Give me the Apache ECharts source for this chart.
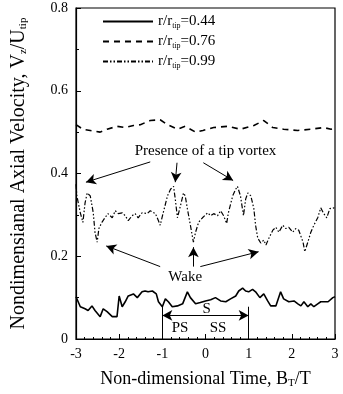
<!DOCTYPE html>
<html><head><meta charset="utf-8">
<script src="https://cdn.jsdelivr.net/npm/echarts@6/dist/echarts.min.js"></script>
<style>html,body{margin:0;padding:0;background:#fff}#c{width:343px;height:394px}</style>
</head><body><div id="c"></div>
<script>
// r/r_tip = 0.44 (solid)
const t44 = [-3,-2.9,-2.79,-2.72,-2.63,-2.56,-2.44,-2.37,-2.28,-2.16,-2.05,-2.0,-1.93,-1.86,-1.79,-1.67,-1.58,-1.47,-1.4,-1.33,-1.23,-1.14,-1.09,-1.0,-0.93,-0.86,-0.77,-0.65,-0.53,-0.42,-0.35,-0.23,-0.12,0.0,0.12,0.23,0.35,0.47,0.58,0.7,0.77,0.86,0.93,1.0,1.09,1.16,1.26,1.35,1.44,1.51,1.63,1.74,1.81,1.93,2.05,2.14,2.21,2.28,2.37,2.44,2.51,2.6,2.67,2.84,2.95,3.0];
const v44 = [0.102,0.078,0.073,0.069,0.08,0.069,0.054,0.073,0.066,0.054,0.054,0.104,0.078,0.09,0.104,0.109,0.10,0.114,0.116,0.114,0.116,0.109,0.09,0.078,0.097,0.09,0.078,0.08,0.085,0.114,0.10,0.085,0.088,0.092,0.095,0.10,0.092,0.09,0.097,0.104,0.116,0.123,0.116,0.114,0.12,0.114,0.10,0.109,0.092,0.08,0.08,0.114,0.097,0.09,0.092,0.085,0.08,0.09,0.078,0.085,0.078,0.085,0.09,0.09,0.10,0.102];
// r/r_tip = 0.76 (dashed)
const t76 = [-3,-2.84,-2.67,-2.44,-2.28,-2.05,-1.86,-1.67,-1.51,-1.28,-1.05,-0.88,-0.65,-0.47,-0.23,-0.06,0.19,0.51,0.81,1.12,1.35,1.56,1.81,2.14,2.44,2.74,2.91,3.0];
const v76 = [0.518,0.507,0.504,0.5,0.507,0.514,0.511,0.516,0.518,0.528,0.53,0.518,0.507,0.514,0.5,0.504,0.511,0.514,0.507,0.516,0.528,0.511,0.507,0.504,0.507,0.511,0.507,0.509];
// r/r_tip = 0.99 (dash-dot-dot)
const t99 = [-3,-2.98,-2.9,-2.84,-2.79,-2.74,-2.67,-2.6,-2.56,-2.51,-2.47,-2.4,-2.33,-2.26,-2.16,-2.09,-2.02,-1.93,-1.86,-1.79,-1.7,-1.63,-1.56,-1.47,-1.35,-1.28,-1.16,-1.09,-1.05,-0.98,-0.88,-0.81,-0.74,-0.7,-0.65,-0.58,-0.51,-0.47,-0.42,-0.35,-0.28,-0.23,-0.16,-0.07,0.05,0.12,0.19,0.28,0.35,0.42,0.49,0.53,0.63,0.7,0.74,0.81,0.88,0.93,0.98,1.05,1.12,1.16,1.21,1.28,1.35,1.4,1.47,1.56,1.63,1.7,1.79,1.86,1.93,2.02,2.09,2.16,2.26,2.3,2.37,2.44,2.51,2.6,2.67,2.74,2.81,2.88,2.98,3.0];
const v99 = [0.374,0.346,0.305,0.282,0.329,0.353,0.346,0.305,0.258,0.234,0.267,0.282,0.293,0.303,0.293,0.31,0.303,0.305,0.298,0.286,0.298,0.303,0.293,0.305,0.303,0.31,0.303,0.286,0.275,0.305,0.346,0.362,0.369,0.338,0.293,0.322,0.353,0.346,0.315,0.275,0.234,0.258,0.282,0.293,0.305,0.298,0.303,0.298,0.31,0.298,0.279,0.305,0.346,0.362,0.369,0.346,0.298,0.338,0.353,0.346,0.315,0.275,0.244,0.232,0.239,0.227,0.244,0.263,0.27,0.258,0.275,0.267,0.27,0.258,0.267,0.263,0.234,0.211,0.234,0.258,0.275,0.293,0.317,0.303,0.293,0.315,0.317,0.317];
const seriesNames = ['0.44','0.76','0.99'];
const xTicks = {min:-3, max:3, interval:1};
const yTicks = {min:0, max:0.8, interval:0.2};

const zip = (a,b) => a.map((x,i)=>[x,b[i]]);
const serif = 'Liberation Serif';
const chart = echarts.init(document.getElementById('c'), null, {renderer:'canvas'});
const baseLine = {type:'line', symbol:'none', smooth:false, animation:false};
const rich = {
  n:{fontFamily:serif, fontSize:15, color:'#000'},
  s:{fontFamily:serif, fontSize:8, color:'#000', verticalAlign:'bottom', padding:[9,0,0,0]}
};
chart.setOption({
  animation:false,
  grid:{left:76, right:8, top:8, bottom:48, show:true, borderColor:'#000', borderWidth:1.2},
  legend:{
    orient:'vertical', left:97, top:9, itemWidth:50, itemHeight:10, itemGap:4,
    data:seriesNames.map(n=>'r'+n),
    itemStyle:{opacity:0},
    formatter:name=>`{n|r/r}{s|tip}{n|=${name.slice(1)}}`,
    textStyle:{rich}
  },
  xAxis:{type:'value', min:xTicks.min, max:xTicks.max, interval:xTicks.interval,
    axisLine:{onZero:false, lineStyle:{color:'#000', width:1.2}},
    axisTick:{inside:true, length:5, lineStyle:{color:'#000'}},
    minorTick:{show:true, splitNumber:5, length:2, lineStyle:{color:'#000'}},
    splitLine:{show:false},
    axisLabel:{color:'#000', fontFamily:serif, fontSize:14, margin:8},
    name:'{n|Non-dimensional Time, B}{s|T}{n|/T}', nameLocation:'middle', nameGap:31,
    nameTextStyle:{rich:{n:{fontFamily:serif,fontSize:18,color:'#000'}, s:{fontFamily:serif,fontSize:11,color:'#000',verticalAlign:'bottom',padding:[8,0,0,0]}}}
  },
  yAxis:{type:'value', min:yTicks.min, max:yTicks.max, interval:yTicks.interval,
    axisLine:{show:true, onZero:false, lineStyle:{color:'#000', width:1.2}},
    axisTick:{show:true, inside:true, length:5, lineStyle:{color:'#000'}},
    minorTick:{show:true, splitNumber:2, length:3, lineStyle:{color:'#000'}},
    splitLine:{show:false},
    axisLabel:{color:'#000', fontFamily:serif, fontSize:14, margin:8},
    name:'{n|Nondimensianal Axial Velocity, V}{s|z}{n|/U}{s|tip}', nameLocation:'middle', nameGap:47, nameRotate:90,
    nameTextStyle:{rich:{n:{fontFamily:serif,fontSize:20,color:'#000'}, s:{fontFamily:serif,fontSize:11,color:'#000',verticalAlign:'bottom',padding:[9,0,0,0]}}}
  },
  series:[
    Object.assign({}, baseLine, {name:'r0.44', data:zip(t44,v44), lineStyle:{color:'#000', width:1.6, type:'solid'}, itemStyle:{color:'#000'}}),
    Object.assign({}, baseLine, {name:'r0.76', data:zip(t76,v76), lineStyle:{color:'#000', width:1.6, type:[6,5]}, itemStyle:{color:'#000'}}),
    Object.assign({}, baseLine, {name:'r0.99', data:zip(t99,v99), lineStyle:{color:'#000', width:1.2, type:[5,2,1.5,2,1.5,2]}, itemStyle:{color:'#000'}}),
    {type:'line', data:[], silent:true, animation:false,
      markLine:{silent:true, animation:false, symbol:['none','arrow'], symbolSize:[8,10],
        lineStyle:{color:'#000', width:1, type:'solid'}, label:{show:false},
        data:[
          [{coord:[-1.28,0.428]},{coord:[-2.77,0.379]}],
          [{coord:[-0.66,0.426]},{coord:[-0.70,0.379]}],
          [{coord:[-0.05,0.426]},{coord:[0.64,0.383]}],
          [{coord:[-1.05,0.175]},{coord:[-2.3,0.225]}],
          [{coord:[-0.28,0.175]},{coord:[-0.28,0.222]}],
          [{coord:[-0.12,0.175]},{coord:[1.23,0.211]}],
          [{coord:[-1,0.057],symbol:'arrow'},{coord:[1,0.057]}],
          [{coord:[-1,0.078],symbol:'none'},{coord:[-1,0],symbol:'none'}],
          [{coord:[1,0.078],symbol:'none'},{coord:[1,0],symbol:'none'}]
        ]}
    }
  ]
});
const texts = [
  ['Presence of a tip vortex', 0, 0.454, 15],
  ['Wake', -0.47, 0.149, 15],
  ['S', 0.03, 0.073, 15],
  ['PS', -0.59, 0.026, 15],
  ['SS', 0.29, 0.026, 15]
];
chart.setOption({graphic: texts.map(([t,x,y,fs])=>{
  const p = chart.convertToPixel({gridIndex:0}, [x,y]);
  return {type:'text', x:p[0], y:p[1], style:{text:t, fontFamily:serif, fontSize:fs, fill:'#000', align:'center', verticalAlign:'middle'}};
})});
</script></body></html>
